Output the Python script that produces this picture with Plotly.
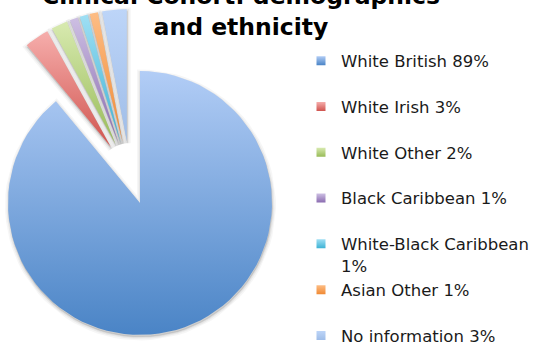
import math
import plotly.graph_objects as go

# ---------------- data ----------------
categories = ["White British", "White Irish", "White Other", "Black Caribbean",
              "White-Black Caribbean", "Asian Other", "No information"]
percentages = [89, 3, 2, 1, 1, 1, 3]
exploded = [False, True, True, True, True, True, True]

# gradient colours (top, bottom) for each slice
top_colors = ["#b2cdf6", "#f6aeac", "#d8eab0", "#cdbfe3", "#9fdff4", "#fdbd85", "#bdd5f8"]
bottom_colors = ["#4a84c6", "#d0544f", "#98bb58", "#8a6bb0", "#3cb2d4", "#f08a34", "#9fbde8"]

# ---------------- layout constants (pixels) ----------------
W, H = 534, 342
CX, CY = 140, 203          # pie centre
R = 132                    # pie radius
SHIFT = (-10, -28)         # common displacement of exploded group
PULL = 34                  # explosion distance along slice bisector

FONT = "DejaVu Sans"


def u(deg):
    """unit vector, angle measured clockwise from 12 o'clock, y up"""
    t = math.radians(deg)
    return math.sin(t), math.cos(t)


def wedge(a0, a1, ox, oy, n=90):
    steps = max(4, int(n * (a1 - a0) / 360) + 4)
    xs, ys = [ox], [oy]
    for k in range(steps + 1):
        a = a0 + (a1 - a0) * k / steps
        sx, sy = u(a)
        xs.append(ox + sx)
        ys.append(oy + sy)
    xs.append(ox)
    ys.append(oy)
    return xs, ys


fig = go.Figure()

total = sum(percentages)
start = 0.0
slices = []
for cat, pct, ex, ct, cb in zip(categories, percentages, exploded, top_colors, bottom_colors):
    a0 = start
    a1 = start + 360.0 * pct / total
    start = a1
    ox, oy = 0.0, 0.0
    if ex:
        mx, my = u((a0 + a1) / 2)
        ox = SHIFT[0] / R + PULL / R * mx
        oy = -SHIFT[1] / R + PULL / R * my
    xs, ys = wedge(a0, a1, ox, oy)
    slices.append((cat, pct, xs, ys, ct, cb))

# soft shadows
for cat, pct, xs, ys, ct, cb in slices:
    sx = [x + 0.5 / R for x in xs]
    sy = [y - 2.0 / R for y in ys]
    for lw, alpha in [(7, 0.035), (4, 0.05), (1.5, 0.07)]:
        fig.add_trace(go.Scatter(
            x=sx, y=sy, mode="lines", fill="toself",
            fillcolor="rgba(0,0,0,%g)" % (alpha * 0.8),
            line=dict(color="rgba(0,0,0,%g)" % alpha, width=lw),
            hoverinfo="skip", showlegend=False))

# slices
for cat, pct, xs, ys, ct, cb in slices:
    fig.add_trace(go.Scatter(
        x=xs, y=ys, mode="lines", fill="toself",
        fillgradient=dict(type="vertical", colorscale=[[0, cb], [1, ct]]),
        line=dict(width=0, color=cb),
        name=f"{cat} {pct}%", hoverinfo="name", showlegend=False))

# legend entries
for i, (cat, pct, ct, cb) in enumerate(zip(categories, percentages, top_colors, bottom_colors)):
    label = f"{cat} {pct}%"
    if len(label) > 22:
        label = f"{cat}<br>{pct}%"
    fig.add_trace(go.Scatter(
        x=[None], y=[None], mode="markers", name=label,
        legendgroup=cat,
        legend="legend" if i < 5 else "legend2",
        marker=dict(symbol="square", size=9, color=ct,
                    gradient=dict(type="vertical", color=cb),
                    line=dict(width=0))))

legend_common = dict(
    xanchor="left", yanchor="top", bgcolor="rgba(0,0,0,0)",
    font=dict(family=FONT, size=16.5, color="#1a1a1a"),
    tracegroupgap=21.35, valign="top", itemclick=False, itemdoubleclick=False)

fig.update_layout(
    width=W, height=H,
    margin=dict(l=0, r=0, t=0, b=0, pad=0, autoexpand=False),
    paper_bgcolor="white", plot_bgcolor="white",
    xaxis=dict(range=[-CX / R, (W - CX) / R], visible=False, fixedrange=True),
    yaxis=dict(range=[(CY - H) / R, CY / R], visible=False, fixedrange=True),
    legend=dict(x=301 / W, y=1 - 43.4 / H, **legend_common),
    legend2=dict(x=301 / W, y=1 - 272.4 / H, **legend_common),
    annotations=[dict(
        text="Clinical Cohort: demographics<br>and ethnicity",
        xref="paper", yref="paper", x=241 / W, y=1 - 11.4 / H,
        xanchor="center", yanchor="middle", showarrow=False,
        font=dict(family=FONT, size=23.5, color="black", weight="bold"))],
)

fig.write_html("out.html", config={"displayModeBar": False},
               post_script="document.body.style.margin='0px';")
